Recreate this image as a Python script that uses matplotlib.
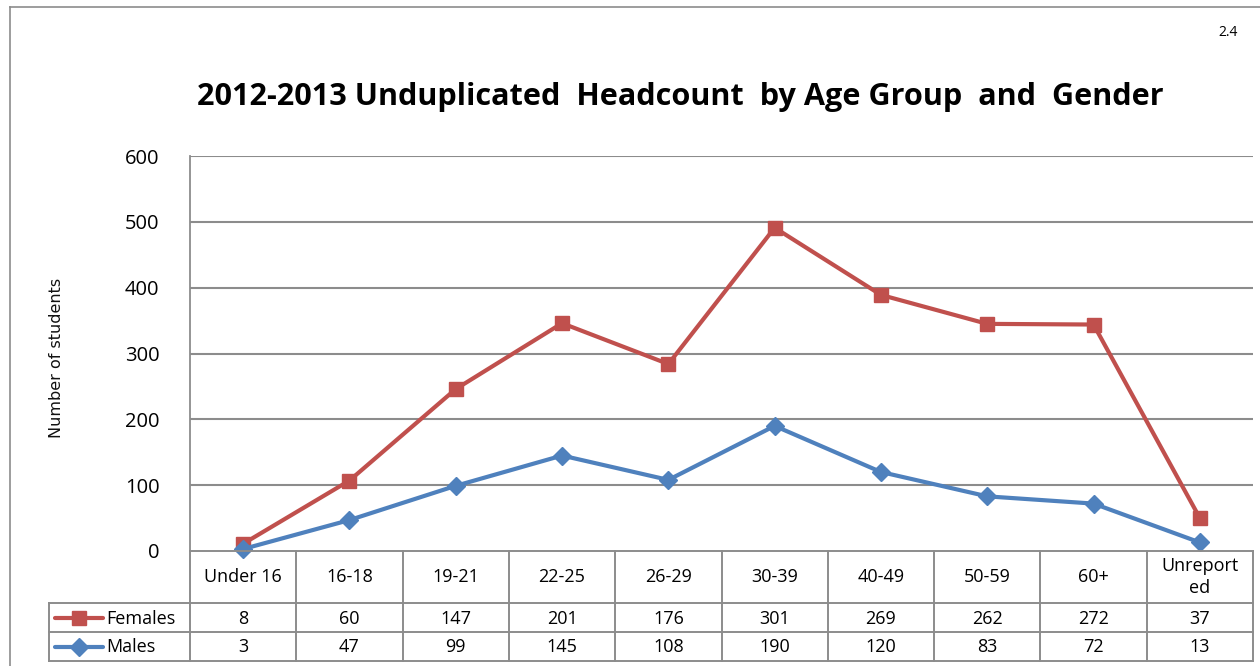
import matplotlib
matplotlib.use("Agg")
import matplotlib.pyplot as plt
import numpy as np

categories = ["Under 16", "16-18", "19-21", "22-25", "26-29", "30-39",
              "40-49", "50-59", "60+", "Unreport\ned"]
females = [8, 60, 147, 201, 176, 301, 269, 262, 272, 37]
males = [3, 47, 99, 145, 108, 190, 120, 83, 72, 13]
series_names = ["Females", "Males"]
yticks = [0, 100, 200, 300, 400, 500, 600]

RED = "#C0504D"
BLUE = "#4F81BD"
GRID = "#8C8C8C"
FONT = "Open Sans"

W, H = 1260, 666
fig = plt.figure(figsize=(W / 100, H / 100), dpi=100)

def fx(px):
    return px / W

def fy(py):
    return 1 - py / H

# outer frame
fig.add_artist(plt.Line2D([fx(10), fx(10)], [fy(7), fy(666)], color="#8C8C8C", lw=1.2))
fig.add_artist(plt.Line2D([fx(10), fx(1260)], [fy(7), fy(7)], color="#8C8C8C", lw=1.2))

L, R, T, B = 190, 1253, 156, 551
ax = fig.add_axes([fx(L), fy(B), fx(R) - fx(L), fy(T) - fy(B)])
n = len(categories)
x = np.arange(n)
ax.set_xlim(-0.5, n - 0.5)
ax.set_ylim(0, 600)
for s in ["top", "right", "bottom"]:
    ax.spines[s].set_visible(False)
ax.spines["left"].set_color(GRID)
ax.spines["left"].set_linewidth(1.3)
ax.set_yticks(yticks)
ax.set_yticklabels([str(v) for v in yticks], fontsize=14.5, family=FONT)
ax.tick_params(axis="y", length=0, pad=22)
ax.set_xticks([])
for v in yticks[1:]:
    ax.axhline(v, color=GRID, lw=1.5, zorder=1)

stack_m = np.array(males)
stack_f = stack_m + np.array(females)
ax.plot(x, stack_f, color=RED, lw=3, marker="s", ms=10, mfc=RED, mec=RED,
        zorder=3, clip_on=False)
ax.plot(x, stack_m, color=BLUE, lw=3, marker="D", ms=9, mfc=BLUE, mec=BLUE,
        zorder=4, clip_on=False)

# y label
fig.text(fx(57), fy(358), "Number of students", rotation=90, ha="center",
         va="center", fontsize=11.5, family="Liberation Sans Narrow",
         color="#111111")

# title, fitted to the reference width
title = fig.text(fx(680), fy(97),
                 "2012-2013 Unduplicated  Headcount  by Age Group  and  Gender",
                 ha="center", va="center", fontsize=19, fontweight="bold", family=FONT)
fig.canvas.draw()
wpx = title.get_window_extent(fig.canvas.get_renderer()).width
title.set_fontsize(19 * 964 / wpx)

fig.text(fx(1228), fy(33), "2.4", ha="center", va="center", fontsize=10, family=FONT)

# data table
TB = 661
tax = fig.add_axes([fx(49), fy(TB), fx(R) - fx(49), fy(B) - fy(TB)])
tax.axis("off")
colw = (R - L) / n
left_data = -0.5 - (L - 49) / colw
tax.set_xlim(left_data, n - 0.5)
tax.set_ylim(TB, B)
row_cat = (551, 603)
row_f = (603, 632)
row_m = (632, 661)
kw = dict(color=GRID, lw=1.4, clip_on=False)
tax.plot([-0.5, n - 0.5], [551, 551], **kw)
tax.plot([left_data, n - 0.5], [603, 603], **kw)
tax.plot([left_data, n - 0.5], [632, 632], **kw)
tax.plot([left_data, n - 0.5], [661, 661], **kw)
for i in range(n + 1):
    tax.plot([i - 0.5, i - 0.5], [551, 661], **kw)
tax.plot([left_data, left_data], [603, 661], **kw)

TFS = 13
for i, c in enumerate(categories):
    tax.text(i, sum(row_cat) / 2, c, ha="center", va="center", fontsize=TFS,
             family=FONT, linespacing=1.3)
    tax.text(i, sum(row_f) / 2 + 1, str(females[i]), ha="center", va="center",
             fontsize=TFS, family=FONT)
    tax.text(i, sum(row_m) / 2 + 1, str(males[i]), ha="center", va="center",
             fontsize=TFS, family=FONT)

kx0 = left_data + (55 - 49) / colw
kx1 = left_data + (103 - 49) / colw
kxm = (kx0 + kx1) / 2
tx = left_data + (106 - 49) / colw
for (r0, r1), col, mk, ms, name in [(row_f, RED, "s", 10, series_names[0]),
                                     (row_m, BLUE, "D", 9, series_names[1])]:
    yc = (r0 + r1) / 2
    tax.plot([kx0, kx1], [yc, yc], color=col, lw=3, solid_capstyle="round",
             clip_on=False)
    tax.plot([kxm], [yc], marker=mk, ms=ms, color=col, clip_on=False)
    tax.text(tx, yc + 1, name, ha="left", va="center", fontsize=TFS, family=FONT)

fig.savefig("out.png", dpi=100)
